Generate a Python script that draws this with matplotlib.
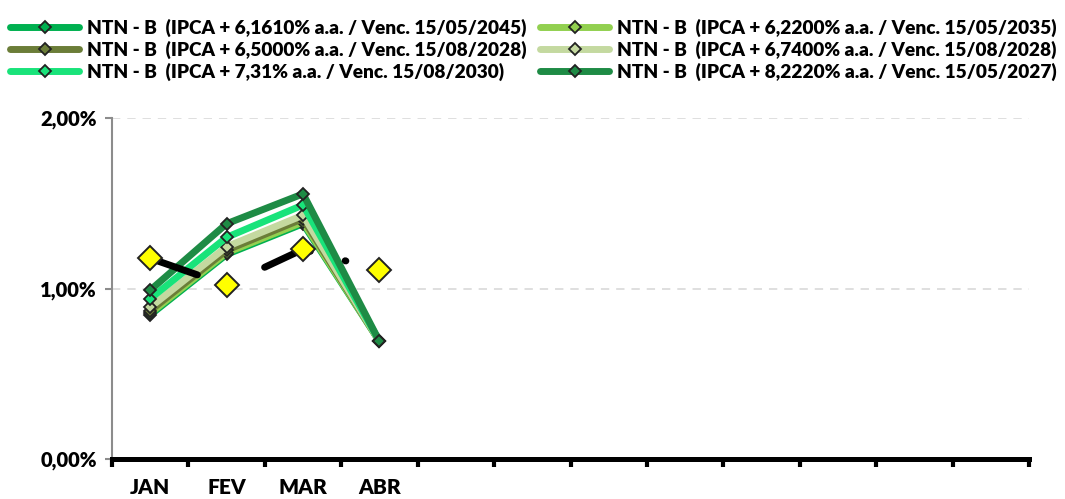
import matplotlib
matplotlib.use("Agg")
import matplotlib.pyplot as plt
from matplotlib.ticker import FixedLocator, FuncFormatter

plt.rcParams['font.family'] = ['Lato', 'DejaVu Sans']
plt.rcParams['font.weight'] = 'heavy'
plt.rcParams['lines.scale_dashes'] = False

# dados (rentabilidade mensal, em %)
meses = ['JAN', 'FEV', 'MAR', 'ABR', '', '', '', '', '', '', '', '']

rotulos = [
    'NTN - B  (IPCA + 6,1610% a.a. / Venc. 15/05/2045)',
    'NTN - B  (IPCA + 6,2200% a.a. / Venc. 15/05/2035)',
    'NTN - B  (IPCA + 6,5000% a.a. / Venc. 15/08/2028)',
    'NTN - B  (IPCA + 6,7400% a.a. / Venc. 15/08/2028)',
    'NTN - B  (IPCA + 7,31% a.a. / Venc. 15/08/2030)',
    'NTN - B  (IPCA + 8,2220% a.a. / Venc. 15/05/2027)',
]
ntnb_2045 = [0.845, 1.20, 1.38, 0.69]
ntnb_2035 = [0.855, 1.21, 1.39, 0.69]
ntnb_2028a = [0.87, 1.225, 1.41, 0.69]
ntnb_2028b = [0.89, 1.245, 1.43, 0.69]
ntnb_2030 = [0.94, 1.30, 1.49, 0.69]
ntnb_2027 = [0.99, 1.38, 1.555, 0.69]
referencia = [1.177, 1.02, 1.23, 1.108]

cores = ['#00B050', '#92D050', '#6B7D38', '#C4D9A0', '#19E37A', '#1E8B45']
series = [ntnb_2045, ntnb_2035, ntnb_2028a, ntnb_2028b, ntnb_2030, ntnb_2027]

fig = plt.figure(figsize=(10.65, 4.99), dpi=100)
ax = fig.add_axes([112 / 1065, 40 / 499, (1029 - 112) / 1065, (459 - 118) / 499])

handles = []
for vals, cor, rot in zip(series, cores, rotulos):
    x = list(range(len(vals)))
    h, = ax.plot(x, vals, color=cor, lw=5, marker='D', ms=6.5,
                 mfc=cor, mec='#222222', mew=1.3, label=rot,
                 solid_capstyle='round', solid_joinstyle='round')
    handles.append(h)

ax.plot(range(len(referencia)), referencia, color='black', lw=5,
        linestyle=(0, (36, 26, 0.5, 26)), dash_capstyle='round',
        marker='D', ms=12, mfc='#FFFF00', mec='#222222', mew=1.4)

ax.set_xlim(-0.5, len(meses) - 0.5)
ax.set_ylim(0, 2)

ax.xaxis.set_major_locator(FixedLocator(range(len(meses))))
ax.set_xticklabels(meses)
ax.xaxis.set_minor_locator(FixedLocator([i - 0.5 for i in range(len(meses) + 1)]))
ax.tick_params(axis='x', which='major', length=0, pad=14, labelsize=15)
ax.tick_params(axis='x', which='minor', length=6, width=3, color='black', direction='out')

ax.yaxis.set_major_locator(FixedLocator([0, 1, 2]))
ax.yaxis.set_major_formatter(FuncFormatter(lambda v, p: ('%.2f%%' % v).replace('.', ',')))
ax.tick_params(axis='y', length=5, width=1.5, color='#8c8c8c', pad=6, labelsize=14.5)

ax.grid(axis='y', color='#d9d9d9', lw=1.2, linestyle=(0, (6, 5)))
ax.set_axisbelow(True)
for s in ['top', 'right']:
    ax.spines[s].set_visible(False)
ax.spines['left'].set_color('#8c8c8c')
ax.spines['left'].set_linewidth(1.5)
ax.spines['bottom'].set_color('black')
ax.spines['bottom'].set_linewidth(3.6)
ax.spines['bottom'].set_zorder(5)

leg_kw = dict(loc='upper left', frameon=False, fontsize=13.7, handlelength=3.65,
              handletextpad=0.42, labelspacing=0.18, borderpad=0, borderaxespad=0,
              prop={'size': 13.7, 'weight': 'heavy'})
leg_kw.pop('fontsize')
fig.legend([handles[0], handles[2], handles[4]], [rotulos[0], rotulos[2], rotulos[4]],
           bbox_to_anchor=(10 / 1065, 1 - 19 / 499), **leg_kw)
fig.legend([handles[1], handles[3], handles[5]], [rotulos[1], rotulos[3], rotulos[5]],
           bbox_to_anchor=(540 / 1065, 1 - 19 / 499), **leg_kw)

fig.savefig('out.png', dpi=100)
